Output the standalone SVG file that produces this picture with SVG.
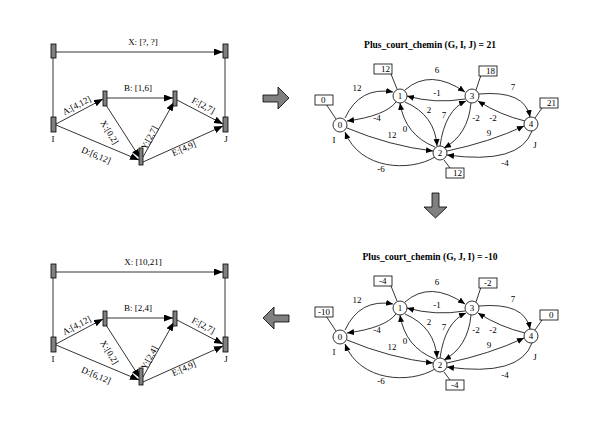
<svg xmlns="http://www.w3.org/2000/svg" width="612" height="428" viewBox="0 0 612 428">
<style>
text{font-family:"Liberation Serif","Times New Roman",serif;font-size:9px;fill:#000}
.t{font-weight:bold;font-size:9.5px}
.m{text-anchor:middle}
.bar{fill:#808080;stroke:#000;stroke-width:0.8}
.ln{fill:none;stroke:#000;stroke-width:0.8}
.la{fill:none;stroke:#000;stroke-width:0.8;marker-end:url(#ab)}
.ga{fill:none;stroke:#000;stroke-width:0.8;marker-end:url(#as)}
.nd{fill:#fff;stroke:#000;stroke-width:0.8}
.bx{fill:#fff;stroke:#000;stroke-width:0.8}
.big{fill:#808080;stroke:#000;stroke-width:0.8}
</style>
<defs>
<marker id="ab" markerUnits="userSpaceOnUse" markerWidth="10" markerHeight="8" refX="9" refY="3.5" orient="auto"><path d="M0,0 L9,3.5 L0,7 z" fill="#000"/></marker>
<marker id="as" markerUnits="userSpaceOnUse" markerWidth="8" markerHeight="7" refX="7" refY="3" orient="auto"><path d="M0,0 L7,3 L0,6 z" fill="#000"/></marker>
<g id="pertTop">
<line class="ln" x1="53" y1="58" x2="53" y2="117"/>
<line class="ln" x1="225" y1="58" x2="225" y2="117"/>
<line class="la" x1="56" y1="52" x2="223" y2="52"/>
<line class="la" x1="56" y1="124" x2="103" y2="99"/>
<line class="la" x1="56" y1="125" x2="139" y2="160"/>
<line class="la" x1="107" y1="98" x2="173" y2="98"/>
<line class="la" x1="106" y1="105" x2="140" y2="158"/>
<line class="la" x1="143" y1="157" x2="174" y2="102"/>
<line class="la" x1="177" y1="100" x2="223" y2="124"/>
<line class="la" x1="143" y1="162" x2="223" y2="126"/>
</g>
<g id="graphTop">
<path class="ga" d="M345,118 Q360,86 393,92"/>
<path class="ga" d="M396,102 Q385,116 347,121"/>
<path class="ga" d="M347,128 Q390,146 433,151"/>
<path class="ga" d="M435,157 C410,172 360,170 345,132"/>
<path class="ga" d="M405,90 Q430,68 465,92"/>
<path class="ga" d="M465,99 Q435,104 407,96"/>
<path class="ga" d="M405,102 Q435,115 437,146"/>
<path class="ga" d="M435,147 Q405,135 400,103"/>
<path class="ga" d="M440,146 Q445,110 466,101"/>
<path class="ga" d="M471,103 Q468,135 444,148"/>
<path class="ga" d="M479,94 Q525,90 530,117"/>
<path class="ga" d="M525,121 Q500,115 478,101"/>
<path class="ga" d="M447,151 Q490,142 524,126"/>
<path class="ga" d="M532,131 Q520,165 447,155"/>
<line class="ln" x1="326" y1="104" x2="336" y2="119"/>
<line class="ln" x1="391" y1="74" x2="397" y2="89"/>
<line class="ln" x1="481" y1="75" x2="476" y2="90"/>
<line class="ln" x1="542" y1="108" x2="535" y2="118"/>
<line class="ln" x1="444" y1="160" x2="450" y2="168"/>
</g>
</defs>
<g id="connectors">
<use href="#pertTop"/>
<use href="#pertTop" y="220"/>
<use href="#graphTop"/>
<use href="#graphTop" y="212"/>
</g>
<!-- top-left PERT -->
<g id="p1-I"><rect class="bar" x="51" y="117" width="5" height="15"/><text class="m" x="53" y="142">I</text></g>
<g id="p1-Itop"><rect class="bar" x="51" y="44" width="5" height="14"/></g>
<g id="p1-Jtop"><rect class="bar" x="223" y="44" width="5" height="14"/></g>
<g id="p1-J"><rect class="bar" x="223" y="117" width="5" height="15"/><text class="m" x="226" y="142">J</text></g>
<g id="p1-a"><rect class="bar" x="103" y="91" width="4" height="15"/></g>
<g id="p1-b"><rect class="bar" x="173" y="91" width="4" height="15"/></g>
<g id="p1-c"><rect class="bar" x="139" y="148" width="4" height="17"/></g>
<g id="p1-labels">
<text class="m" x="143" y="45">X: [?, ?]</text>
<text class="m" x="138" y="91">B: [1,6]</text>
<text class="m" transform="translate(78,108) rotate(-28)">A:[4,12]</text>
<text class="m" transform="translate(95,158) rotate(23)">D:[6,12]</text>
<text class="m" transform="translate(107,134) rotate(58)">X:[0,2]</text>
<text class="m" transform="translate(152,139) rotate(-62)">Y:[2,7]</text>
<text class="m" transform="translate(202,108) rotate(28)">F:[2,7]</text>
<text class="m" transform="translate(185,151) rotate(-24)">E:[4,9]</text>
</g>
<!-- bottom-left PERT -->
<g id="p2-I"><rect class="bar" x="51" y="337" width="5" height="15"/><text class="m" x="53" y="362">I</text></g>
<g id="p2-Itop"><rect class="bar" x="51" y="264" width="5" height="14"/></g>
<g id="p2-Jtop"><rect class="bar" x="223" y="264" width="5" height="14"/></g>
<g id="p2-J"><rect class="bar" x="223" y="337" width="5" height="15"/><text class="m" x="226" y="362">J</text></g>
<g id="p2-a"><rect class="bar" x="103" y="311" width="4" height="15"/></g>
<g id="p2-b"><rect class="bar" x="173" y="311" width="4" height="15"/></g>
<g id="p2-c"><rect class="bar" x="139" y="368" width="4" height="17"/></g>
<g id="p2-labels">
<text class="m" x="143" y="265">X: [10,21]</text>
<text class="m" x="138" y="311">B: [2,4]</text>
<text class="m" transform="translate(78,328) rotate(-28)">A:[4,12]</text>
<text class="m" transform="translate(95,378) rotate(23)">D:[6,12]</text>
<text class="m" transform="translate(107,354) rotate(58)">X:[0,2]</text>
<text class="m" transform="translate(152,359) rotate(-62)">Y:[2,4]</text>
<text class="m" transform="translate(202,328) rotate(28)">F:[2,7]</text>
<text class="m" transform="translate(185,371) rotate(-24)">E:[4,9]</text>
</g>
<!-- top-right graph -->
<text class="t m" x="430" y="48">Plus_court_chemin (G, I, J) = 21</text>
<g id="g1-n0"><circle class="nd" cx="340" cy="125" r="7"/><text class="m" x="340" y="128">0</text><text class="m" x="334" y="143">I</text><rect class="bx" x="315" y="95" width="18" height="10"/><text x="321" y="103">0</text></g>
<g id="g1-n1"><circle class="nd" cx="400" cy="96" r="7"/><text class="m" x="400" y="99">1</text><rect class="bx" x="374" y="64" width="18" height="10"/><text x="381" y="72">12</text></g>
<g id="g1-n2"><circle class="nd" cx="440" cy="153" r="7"/><text class="m" x="440" y="156">2</text><rect class="bx" x="446" y="168" width="18" height="10"/><text x="453" y="176">12</text></g>
<g id="g1-n3"><circle class="nd" cx="472" cy="96" r="7"/><text class="m" x="472" y="99">3</text><rect class="bx" x="479" y="66" width="18" height="10"/><text x="486" y="74">18</text></g>
<g id="g1-n4"><circle class="nd" cx="531" cy="124" r="7"/><text class="m" x="531" y="127">4</text><text class="m" x="535" y="148">J</text><rect class="bx" x="540" y="98" width="18" height="10"/><text x="547" y="106">21</text></g>
<g id="g1-labels">
<text class="m" x="357" y="91">12</text>
<text class="m" x="377" y="121">-4</text>
<text class="m" x="392" y="138">12</text>
<text class="m" x="381" y="172">-6</text>
<text class="m" x="437" y="73">6</text>
<text class="m" x="437" y="96">-1</text>
<text class="m" x="429" y="113">2</text>
<text class="m" x="405" y="132">0</text>
<text class="m" x="444" y="118">7</text>
<text class="m" x="476" y="121">-2</text>
<text class="m" x="513" y="90">7</text>
<text class="m" x="493" y="121">-2</text>
<text class="m" x="489" y="136">9</text>
<text class="m" x="505" y="166">-4</text>
</g>
<!-- bottom-right graph -->
<text class="t m" x="430" y="260">Plus_court_chemin (G, J, I) = -10</text>
<g id="g2-n0"><circle class="nd" cx="340" cy="337" r="7"/><text class="m" x="340" y="340">0</text><text class="m" x="334" y="355">I</text><rect class="bx" x="315" y="307" width="18" height="10"/><text x="318" y="315">-10</text></g>
<g id="g2-n1"><circle class="nd" cx="400" cy="308" r="7"/><text class="m" x="400" y="311">1</text><rect class="bx" x="374" y="276" width="18" height="10"/><text x="379" y="284">-4</text></g>
<g id="g2-n2"><circle class="nd" cx="440" cy="365" r="7"/><text class="m" x="440" y="368">2</text><rect class="bx" x="446" y="380" width="18" height="10"/><text x="451" y="388">-4</text></g>
<g id="g2-n3"><circle class="nd" cx="472" cy="308" r="7"/><text class="m" x="472" y="311">3</text><rect class="bx" x="479" y="278" width="18" height="10"/><text x="484" y="286">-2</text></g>
<g id="g2-n4"><circle class="nd" cx="531" cy="336" r="7"/><text class="m" x="531" y="339">4</text><text class="m" x="535" y="360">J</text><rect class="bx" x="540" y="310" width="18" height="10"/><text x="549" y="318">0</text></g>
<g id="g2-labels">
<text class="m" x="357" y="303">12</text>
<text class="m" x="377" y="333">-4</text>
<text class="m" x="392" y="350">12</text>
<text class="m" x="381" y="384">-6</text>
<text class="m" x="437" y="285">6</text>
<text class="m" x="437" y="308">-1</text>
<text class="m" x="429" y="325">2</text>
<text class="m" x="405" y="344">0</text>
<text class="m" x="444" y="330">7</text>
<text class="m" x="476" y="333">-2</text>
<text class="m" x="513" y="302">7</text>
<text class="m" x="493" y="333">-2</text>
<text class="m" x="489" y="348">9</text>
<text class="m" x="505" y="378">-4</text>
</g>
<!-- big arrows -->
<g id="arrowRight"><path class="big" d="M263,95 L278,95 L278,87 L289,98 L278,109 L278,102 L263,102 Z"/></g>
<g id="arrowDown"><path class="big" d="M432,193 L439,193 L439,207 L447,207 L435.5,218 L424,207 L432,207 Z"/></g>
<g id="arrowLeft"><path class="big" d="M289,315 L274,315 L274,307 L263,318 L274,329 L274,322 L289,322 Z"/></g>
</svg>
